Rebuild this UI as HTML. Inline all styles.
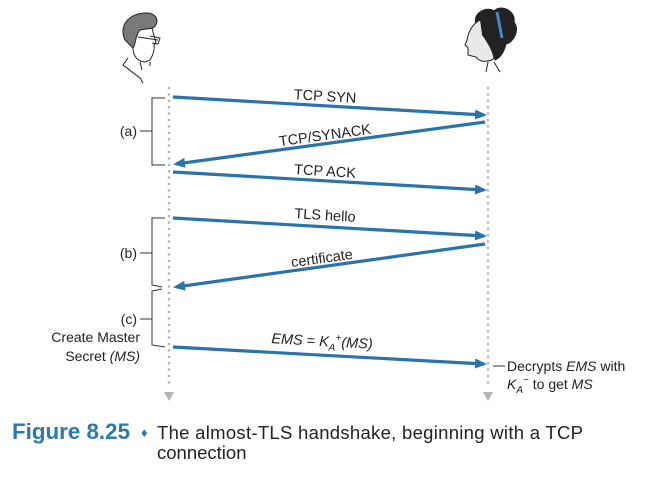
<!DOCTYPE html>
<html><head><style>
body{margin:0;background:#fff;width:664px;height:478px;overflow:hidden}
svg{display:block}
text{font-family:"Liberation Sans",sans-serif;fill:#222}
</style></head><body>
<svg width="664" height="478" viewBox="0 0 664 478">
<defs>
<marker id="ah" markerWidth="12" markerHeight="10" refX="9" refY="5" orient="auto" markerUnits="userSpaceOnUse">
<path d="M0,0 L12,5 L0,10 Z" fill="#2b73ad"/></marker>
</defs>
<g stroke="#222" stroke-width="1" fill="none">
<path d="M125,40 C118,25 130,12 148,13 C160,15 158,25 153,28 L140,30 C135,35 136,45 133,48 Z" fill="#7a7a7a"/>
<path d="M133,48 C133,58 140,62 145,62 L150,60 C153,55 155,50 154,45 L156,42 C154,36 152,30 152,27"/>
<path d="M138,37 L158,40 M150,36 L160,38 L158,44 L152,43"/>
<path d="M128,58 L123,65 L140,78 L143,83 M140,62 L142,70 M150,62 L150,66"/>
</g>
<g stroke="#222" stroke-width="1">
<path d="M476,24 C472,12 488,6 494,11 C500,4 516,10 514,22 C520,30 514,42 506,44 C504,52 500,58 495,60 C493,48 486,42 482,38 Z" fill="#222"/>
<path d="M480,20 C472,24 468,33 467,40 L465,45 L468,48 L468,55 L476,57 C479,62 486,62 492,60 L494,58 C492,48 486,40 482,34" fill="#e9e9e9"/>
<path d="M497,12 L502,38" stroke="#3a8ccc" stroke-width="3"/>
<path d="M488,62 L486,72 M494,62 L500,72" fill="none"/>
</g>
<g stroke="#b5b5b5" stroke-width="2.6" stroke-linecap="round" stroke-dasharray="0 6.4">
<line x1="169" y1="88" x2="169" y2="386"/>
<line x1="488" y1="88" x2="488" y2="386"/>
</g>
<path d="M164,392 L174,392 L169,401 Z M483,392 L493,392 L488,401 Z" fill="#b5b5b5"/>
<g stroke="#2b73ad" stroke-width="3.2" fill="none" marker-end="url(#ah)">
<line x1="173" y1="97" x2="484" y2="115"/>
<line x1="485" y1="122" x2="176" y2="164"/>
<line x1="173" y1="172" x2="484" y2="190"/>
<line x1="173" y1="218" x2="484" y2="236"/>
<line x1="485" y1="244" x2="176" y2="287"/>
<line x1="173" y1="347" x2="484" y2="364"/>
</g>
<g font-size="14.5">
<text x="325" y="101" transform="rotate(3.4 325 97)" text-anchor="middle">TCP SYN</text>
<text x="325" y="140" transform="rotate(-7.8 325 136)" text-anchor="middle">TCP/SYNACK</text>
<text x="325" y="176" transform="rotate(3.4 325 172)" text-anchor="middle">TCP ACK</text>
<text x="325" y="220" transform="rotate(3.4 325 216)" text-anchor="middle">TLS hello</text>
<text x="322" y="263" transform="rotate(-7.8 322 259)" text-anchor="middle">certificate</text>
<text x="322" y="346" transform="rotate(3.2 322 342)" text-anchor="middle"><tspan font-style="italic">EMS</tspan> = <tspan font-style="italic">K</tspan><tspan font-style="italic" font-size="10" dy="4">A</tspan><tspan font-size="10" dy="-10">+</tspan><tspan dy="6" font-style="italic">(MS)</tspan></text>
</g>
<g stroke="#333" stroke-width="1" fill="none">
<path d="M165,98 L152,98 L152,165 L165,165 M140,131 L152,131"/>
<path d="M165,218 L152,218 L152,285 L162,287 M140,253 L152,253"/>
<path d="M162,289 L152,291 L152,345 L165,347 M140,319 L152,319"/>
<path d="M493,366 L505,366"/>
</g>
<g font-size="14">
<text x="137" y="136" text-anchor="end">(a)</text>
<text x="137" y="258" text-anchor="end">(b)</text>
<text x="137" y="324" text-anchor="end">(c)</text>
<text x="140" y="342" text-anchor="end">Create Master</text>
<text x="140" y="361" text-anchor="end">Secret <tspan font-style="italic">(MS)</tspan></text>
<text x="507" y="371">Decrypts <tspan font-style="italic">EMS</tspan> with</text>
<text x="507" y="389"><tspan font-style="italic">K</tspan><tspan font-size="10" dy="4" font-style="italic">A</tspan><tspan font-size="10" dy="-10">−</tspan><tspan dy="6"> to get </tspan><tspan font-style="italic">MS</tspan></text>
</g>
<text x="12" y="439" font-size="22" font-weight="bold" textLength="118" lengthAdjust="spacingAndGlyphs" style="fill:#2a7ab0">Figure 8.25</text>
<text x="141" y="437" font-size="13" style="fill:#2a7ab0">♦</text>
<text x="157" y="439" font-size="18.5" textLength="426">The almost-TLS handshake, beginning with a TCP</text>
<text x="157" y="459" font-size="18.5">connection</text>
</svg>
</body></html>
